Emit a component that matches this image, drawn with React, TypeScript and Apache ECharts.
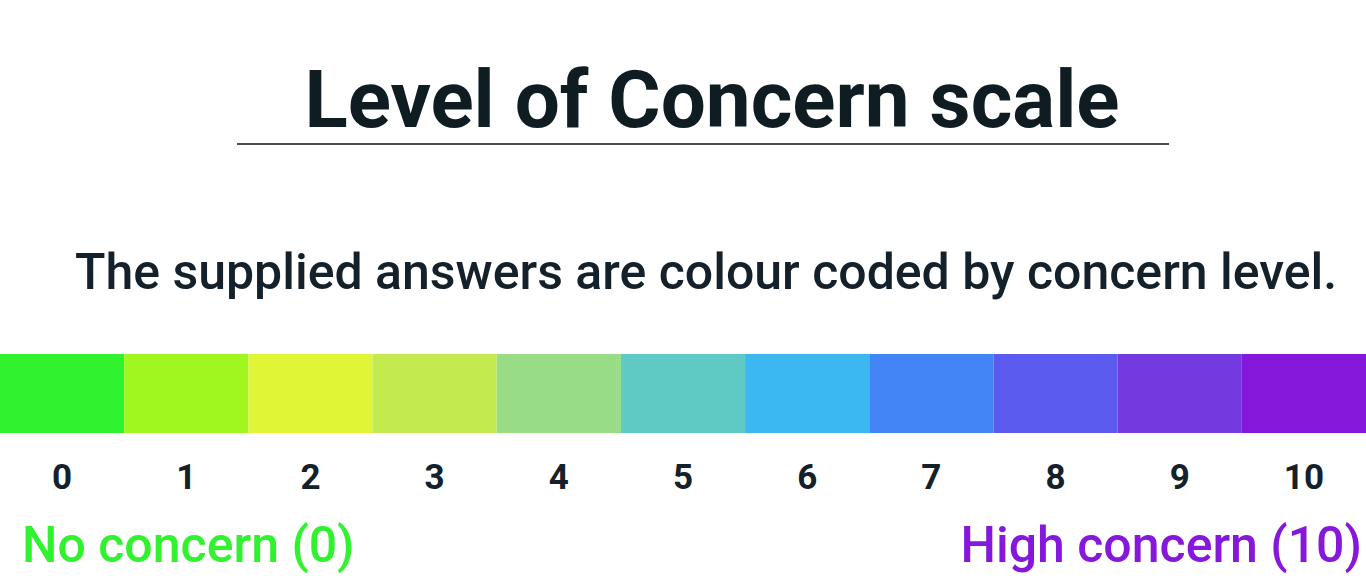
import React, { useEffect, useRef } from "react";
import * as echarts from "echarts";

const levels = ["0", "1", "2", "3", "4", "5", "6", "7", "8", "9", "10"];
const levelColors = [
  "#30f22e", "#a0f71f", "#e0f535", "#c3ea4f", "#98dc85", "#5fc9c4",
  "#3bb8ef", "#4385f6", "#5b5cef", "#743ae0", "#8618dc",
];
const title = "Level of Concern scale";
const subtitle = "The supplied answers are colour coded by concern level.";
const lowLabel = "No concern (0)";
const highLabel = "High concern (10)";

const App: React.FC = () => {
  const chartRef = useRef<HTMLDivElement>(null);

  useEffect(() => {
    if (!chartRef.current) return;
    const chart = echarts.init(chartRef.current, undefined, { renderer: "svg" });
    const font = "Roboto";
    chart.setOption({
      animation: false,
      grid: { left: 0, right: 0, top: 354, height: 79 },
      xAxis: {
        type: "category",
        data: levels,
        axisLine: { show: false },
        axisTick: { show: false },
        axisLabel: {
          margin: 27,
          fontFamily: font,
          fontWeight: "bold",
          fontSize: 35,
          color: "#14202a",
        },
      },
      yAxis: { type: "value", min: 0, max: 1, show: false },
      series: [
        {
          type: "bar",
          barWidth: "100%",
          barCategoryGap: 0,
          data: levels.map((_, i) => ({ value: 1, itemStyle: { color: levelColors[i] } })),
        },
      ],
      graphic: [
        {
          type: "text",
          x: 712,
          y: 60,
          style: { text: title, align: "center", fontFamily: font, fontWeight: "bold", fontSize: 80, fill: "#0f1c22" },
        },
        {
          type: "line",
          shape: { x1: 237, y1: 144, x2: 1169, y2: 144 },
          style: { stroke: "#111", lineWidth: 1.5 },
        },
        {
          type: "text",
          x: 75,
          y: 247,
          style: { text: subtitle, fontFamily: font, fontWeight: 500, fontSize: 50, fill: "#14202a" },
        },
        {
          type: "text",
          x: 22,
          y: 520,
          style: { text: lowLabel, fontFamily: font, fontWeight: 500, fontSize: 50, fill: "#30f22e" },
        },
        {
          type: "text",
          x: 1362,
          y: 520,
          style: { text: highLabel, align: "right", fontFamily: font, fontWeight: 500, fontSize: 50, fill: "#8618dc" },
        },
      ],
    });
    return () => chart.dispose();
  }, []);

  return (
    <div
      ref={chartRef}
      style={{ position: "fixed", left: 0, top: 0, width: 1366, height: 588, background: "#fff" }}
    />
  );
};

export default App;
